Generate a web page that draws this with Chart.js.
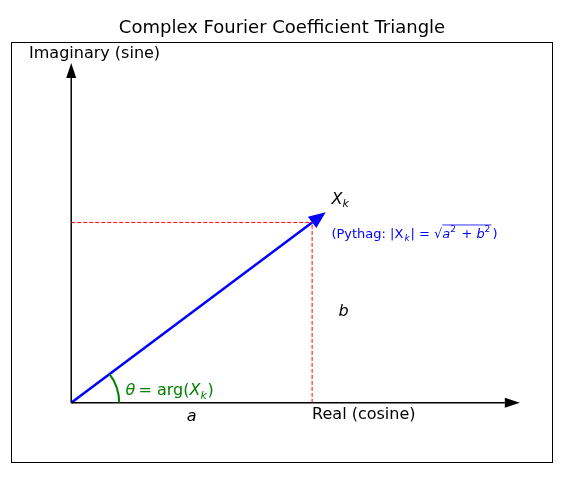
<!DOCTYPE html>
<html>
<head>
<meta charset="utf-8">
<script src="https://cdn.jsdelivr.net/npm/chart.js@4"></script>
<style>
  html, body { margin: 0; padding: 0; background: #fff; }
  #wrap { width: 567px; height: 481px; }
</style>
</head>
<body>
<div id="wrap"><canvas id="c"></canvas></div>
<script>
// coefficient X_k = a + jb
const coefReal = 2;
const coefImag = 1.5;
const axisReal = [0, 3.6];
const axisImag = [0, 2.7];
const xLimits = [-0.5, 4];
const yLimits = [-0.5, 3];

const F = "'DejaVu Sans', sans-serif";

function arrowHead(ctx, sx, sy, x0, y0, x1, y1, len, half, color) {
  const p0x = sx.getPixelForValue(x0), p0y = sy.getPixelForValue(y0);
  const p1x = sx.getPixelForValue(x1), p1y = sy.getPixelForValue(y1);
  const ang = Math.atan2(p1y - p0y, p1x - p0x);
  const c = Math.cos(ang), s = Math.sin(ang);
  ctx.save();
  ctx.fillStyle = color;
  ctx.beginPath();
  ctx.moveTo(p1x + c * len, p1y + s * len);
  ctx.lineTo(p1x - s * half, p1y + c * half);
  ctx.lineTo(p1x + s * half, p1y - c * half);
  ctx.closePath();
  ctx.fill();
  ctx.restore();
}

const deco = {
  id: "deco",
  afterDatasetsDraw(chart) {
    const ctx = chart.ctx, a = chart.chartArea;
    const sx = chart.scales.x, sy = chart.scales.y;
    const px = v => sx.getPixelForValue(v), py = v => sy.getPixelForValue(v);

    // frame
    ctx.save();
    ctx.strokeStyle = "#000"; ctx.lineWidth = 1;
    ctx.strokeRect(a.left + 0.5, a.top + 0.5, a.right - a.left - 1, a.bottom - a.top - 1);

    // title
    ctx.fillStyle = "#000";
    ctx.font = "18px " + F;
    ctx.textAlign = "center"; ctx.textBaseline = "alphabetic";
    ctx.fillText("Complex Fourier Coefficient Triangle", (a.left + a.right) / 2, 33);

    // arrow heads
    arrowHead(ctx, sx, sy, 0, 0, axisReal[1], 0, 15, 5, "#000");
    arrowHead(ctx, sx, sy, 0, 0, 0, axisImag[1], 15, 5, "#000");
    arrowHead(ctx, sx, sy, 0, 0, coefReal, coefImag, 17, 7, "blue");

    // angle arc
    const r = 48;
    const th = Math.atan2(coefImag, coefReal);
    ctx.strokeStyle = "green"; ctx.lineWidth = 2;
    ctx.beginPath();
    ctx.arc(px(0), py(0), r, -th, 0);
    ctx.stroke();

    // labels
    ctx.textBaseline = "middle";
    ctx.textAlign = "left";
    ctx.fillStyle = "#000";
    ctx.font = "16px " + F;
    ctx.fillText("Imaginary (sine)", px(-0.35), py(2.9));
    ctx.fillText("Real (cosine)", px(coefReal), py(-0.1));

    ctx.font = "italic 16px " + F;
    ctx.fillText("X", px(2.16), py(1.69));
    ctx.font = "italic 11px " + F;
    ctx.fillText("k", px(2.16) + 11, py(1.69) + 5);
    ctx.font = "italic 16px " + F;
    ctx.fillText("b", px(2.22), py(0.76));
    ctx.textAlign = "center";
    ctx.fillText("a", px(1), py(-0.12));

    ctx.textAlign = "left";
    ctx.fillStyle = "green";
    ctx.fillText("θ", px(0.45), py(0.1));
    ctx.font = "16px " + F;
    ctx.fillText(" = arg(", px(0.45) + 8, py(0.1));
    let w = ctx.measureText(" = arg(").width + 8;
    ctx.font = "italic 16px " + F;
    ctx.fillText("X", px(0.45) + w, py(0.1));
    ctx.font = "italic 11px " + F;
    ctx.fillText("k", px(0.45) + w + 11, py(0.1) + 5);
    ctx.font = "16px " + F;
    ctx.fillText(")", px(0.45) + w + 18, py(0.1));

    ctx.fillStyle = "blue";
    ctx.font = "13px " + F;
    ctx.fillText("(Pythag: |X", px(2.16), py(1.4));
    ctx.fillText("(Pythag: |X", -1000, -1000);
    let x = px(2.16) + ctx.measureText("(Pythag: |").width;
    ctx.font = "italic 13px " + F;
    // redraw X italic over plain
    ctx.fillStyle = "#fff"; 
    ctx.fillStyle = "blue";
    ctx.font = "italic 9px " + F;
    x += 10;
    ctx.fillText("k", x, py(1.4) + 4);
    x += 6;
    ctx.font = "13px " + F;
    ctx.fillText("| = √", x, py(1.4));
    x += ctx.measureText("| = √").width;
    const rw0 = x;
    ctx.font = "italic 13px " + F;
    ctx.fillText("a", x, py(1.4)); x += 8;
    ctx.font = "9px " + F;
    ctx.fillText("2", x, py(1.4) - 5); x += 7;
    ctx.font = "13px " + F;
    ctx.fillText(" + ", x, py(1.4)); x += ctx.measureText(" + ").width;
    ctx.font = "italic 13px " + F;
    ctx.fillText("b", x, py(1.4)); x += 8;
    ctx.font = "9px " + F;
    ctx.fillText("2", x, py(1.4) - 5); x += 7;
    ctx.strokeStyle = "blue"; ctx.lineWidth = 0.8;
    ctx.beginPath(); ctx.moveTo(rw0, py(1.4) - 9.5); ctx.lineTo(x, py(1.4) - 9.5); ctx.stroke();
    ctx.font = "13px " + F;
    ctx.fillText(")", x + 1, py(1.4));
    ctx.restore();
  }
};

new Chart(document.getElementById("c"), {
  type: "scatter",
  data: {
    datasets: [
      { data: [{x: 0, y: coefImag}, {x: coefReal, y: coefImag}], borderColor: "red", borderWidth: 1, borderDash: [4, 2] },
      { data: [{x: coefReal, y: 0}, {x: coefReal, y: coefImag}], borderColor: "red", borderWidth: 1, borderDash: [4, 2] },
      { data: [{x: axisReal[0], y: 0}, {x: axisReal[1], y: 0}], borderColor: "#000", borderWidth: 1.5 },
      { data: [{x: 0, y: axisImag[0]}, {x: 0, y: axisImag[1]}], borderColor: "#000", borderWidth: 1.5 },
      { data: [{x: 0, y: 0}, {x: coefReal, y: coefImag}], borderColor: "blue", borderWidth: 2.5 }
    ].map(d => Object.assign(d, { showLine: true, pointRadius: 0, fill: false }))
  },
  plugins: [deco],
  options: {
    responsive: true,
    maintainAspectRatio: false,
    animation: false,
    layout: { padding: { left: 11, right: 14, top: 42, bottom: 18 } },
    plugins: { legend: { display: false }, tooltip: { enabled: false } },
    scales: {
      x: { display: false, min: xLimits[0], max: xLimits[1] },
      y: { display: false, min: yLimits[0], max: yLimits[1] }
    }
  }
});
</script>
</body>
</html>
